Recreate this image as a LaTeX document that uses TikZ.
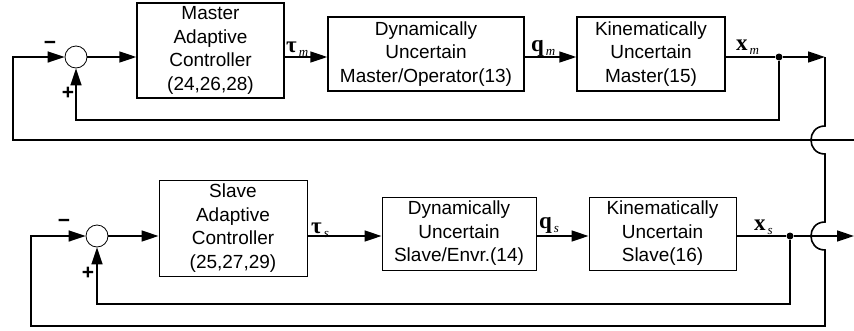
\documentclass[tikz,border=0pt]{standalone}
\usepackage{fontspec}
\setmainfont{Liberation Sans}
\newfontfamily\sigfont{Liberation Serif}
\usetikzlibrary{arrows.meta}

\tikzset{
  blk/.style={draw, line width=1.4pt, align=center, inner sep=0pt,
              font=\fontsize{19}{23.5}\selectfont},
  blkthin/.style={blk, line width=1pt},
  sumnode/.style={draw, circle, line width=0.8pt, minimum size=22pt, inner sep=0pt},
  sig/.style={line width=1.6pt},
  arr/.style={sig, -{Triangle[length=17pt,width=11pt]}},
  jdot/.style={circle, fill, inner sep=0pt, minimum size=7pt},
  lbl/.style={font=\sigfont\fontsize{23}{23}\selectfont, inner sep=0pt, anchor=base west},
  sgn/.style={font=\bfseries\fontsize{21}{21}\selectfont, inner sep=0pt},
}
% bold signal name with an italic subscript
\newcommand\signame[2]{\textbf{#1}\kern2pt\lower4pt\hbox{\fontsize{13}{13}\selectfont\itshape #2}}

\begin{document}
\begin{tikzpicture}[x=1pt, y=-1pt]
\useasboundingbox (0,0) rectangle (854,330);

% ---------------- master loop ----------------
\node[sumnode] (sumM) at (76,57) {};
\node[blk, minimum width=147pt, minimum height=95pt] (b1) at (210.5,50.5)
  {Master\\Adaptive\\Controller\\(24,26,28)};
\node[blk, minimum width=196pt, minimum height=74pt] (b2) at (426,54)
  {Dynamically\\Uncertain\\Master/Operator(13)};
\node[blk, minimum width=148pt, minimum height=74pt] (b3) at (651,54)
  {Kinematically\\Uncertain\\Master(15)};
\node[jdot] (dotM) at (779,57) {};
\coordinate (turnM) at (825,57);
\coordinate (fbM) at (779,120);
\coordinate (inM) at (854,140);
\coordinate (cnM) at (13,140);

\node[sgn] (minusM) at (50,45) {−};
\node[sgn] (plusM) at (68,93) {+};
\node[lbl] (tauM) at (286,52) {\signame{τ}{m}};
\node[lbl] (qM) at (531,51) {\signame{q}{m}};
\node[lbl] (xM) at (736,50) {\signame{x}{m}};

\draw[arr] (sumM) -- (b1.west |- sumM);
\draw[arr] (b1.east |- sumM) -- (b2.west |- sumM);
\draw[arr] (b2.east |- sumM) -- (b3.west |- sumM);
\draw[sig] (b3.east |- sumM) -- (dotM);
\draw[arr] (dotM) -- (turnM);
\draw[arr] (dotM) -- (fbM) -| (sumM.south);
\draw[arr] (inM) -- (cnM) |- (sumM.west);

% ---------------- slave loop ----------------
\node[sumnode] (sumS) at (97,236) {};
\node[blkthin, minimum width=148pt, minimum height=96pt] (b4) at (233,228)
  {Slave\\Adaptive\\Controller\\(25,27,29)};
\node[blkthin, minimum width=154pt, minimum height=73pt] (b5) at (459,233.5)
  {Dynamically\\Uncertain\\Slave/Envr.(14)};
\node[blkthin, minimum width=147pt, minimum height=73pt] (b6) at (662.5,233.5)
  {Kinematically\\Uncertain\\Slave(16)};
\node[jdot] (dotS) at (790,236) {};
\coordinate (outS) at (854,236);
\coordinate (fbS) at (790,304);
\coordinate (cnS) at (31,326);

\node[sgn] (minusS) at (64,223) {−};
\node[sgn] (plusS) at (88,273) {+};
\node[lbl] (tauS) at (311,233) {\signame{τ}{s}};
\node[lbl] (qS) at (539,228) {\signame{q}{s}};
\node[lbl] (xS) at (754,230) {\signame{x}{s}};

\draw[arr] (sumS) -- (b4.west |- sumS);
\draw[arr] (b4.east |- sumS) -- (b5.west |- sumS);
\draw[arr] (b5.east |- sumS) -- (b6.west |- sumS);
\draw[sig] (b6.east |- sumS) -- (dotS);
\draw[arr] (dotS) -- (outS);
\draw[arr] (dotS) -- (fbS) -| (sumS.south);

% master output down to the slave input, hopping over both horizontal lines
\draw[arr] (turnM) -- (825,126)
  .. controls (806.3,126) and (806.3,154) .. (825,154)
  -- (825,222)
  .. controls (806.3,222) and (806.3,250) .. (825,250)
  -- (825,326) -- (cnS) |- (sumS.west);
\end{tikzpicture}
\end{document}
